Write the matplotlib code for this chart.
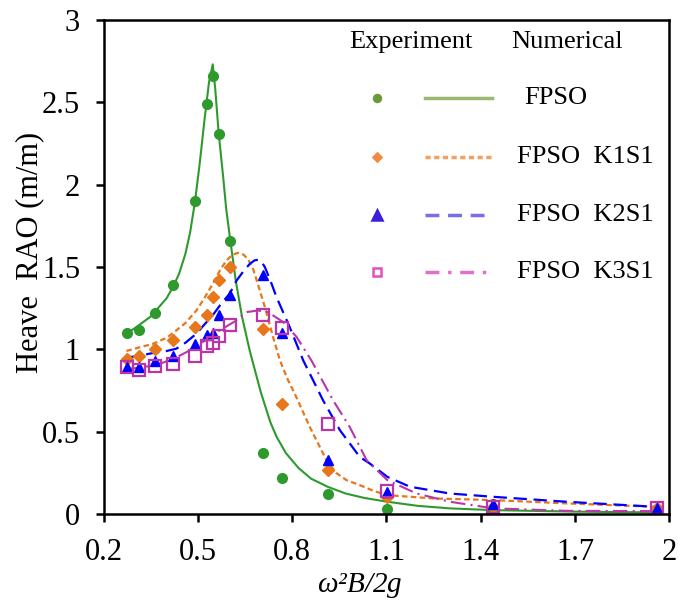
import matplotlib
matplotlib.use("Agg")
import matplotlib.pyplot as plt

plt.rcParams["font.family"] = ["Liberation Serif", "DejaVu Serif"]
plt.rcParams["mathtext.fontset"] = "custom"
plt.rcParams["mathtext.it"] = "Liberation Serif:italic"
plt.rcParams["mathtext.rm"] = "Liberation Serif"

# experimental points (shared frequencies)
x_exp = [0.274, 0.312, 0.363, 0.421, 0.490, 0.528, 0.547, 0.566, 0.603,
         0.706, 0.769, 0.914, 1.103, 1.440, 1.960]
fpso_exp = [1.10, 1.12, 1.22, 1.39, 1.90, 2.49, 2.66, 2.31, 1.66,
            0.37, 0.22, 0.125, 0.03, 0.014, 0.012]
k1s1_exp = [0.94, 0.96, 1.00, 1.055, 1.135, 1.21, 1.32, 1.42, 1.50,
            1.125, 0.67, 0.27, 0.105, 0.044, 0.035]
k2s1_exp = [0.89, 0.89, 0.93, 0.96, 1.03, 1.09, 1.10, 1.21, 1.33,
            1.45, 1.10, 0.33, 0.135, 0.06, 0.038]
k3s1_exp = [0.89, 0.877, 0.90, 0.91, 0.96, 1.02, 1.04, 1.08, 1.15,
            1.21, 1.13, 0.545, 0.141, 0.044, 0.038]

# numerical curves
fpso_x = [0.267, 0.30, 0.35, 0.40, 0.421, 0.44, 0.46, 0.475, 0.49, 0.505,
          0.52, 0.535, 0.547, 0.555, 0.566, 0.58, 0.59, 0.603, 0.62, 0.64,
          0.665, 0.70, 0.73, 0.75, 0.78, 0.82, 0.86, 0.914, 0.97, 1.03,
          1.103, 1.2, 1.3, 1.44, 1.7, 1.96]
fpso_y = [1.09, 1.13, 1.20, 1.31, 1.38, 1.46, 1.58, 1.71, 1.89, 2.12,
          2.38, 2.62, 2.73, 2.58, 2.31, 2.05, 1.85, 1.66, 1.42, 1.20,
          0.99, 0.74, 0.56, 0.47, 0.37, 0.28, 0.215, 0.165, 0.125, 0.098,
          0.075, 0.05, 0.035, 0.024, 0.015, 0.01]

k1s1_x = [0.272, 0.30, 0.357, 0.40, 0.431, 0.46, 0.495, 0.52, 0.548, 0.57,
          0.591, 0.61, 0.628, 0.645, 0.66, 0.675, 0.69, 0.713, 0.739, 0.761,
          0.785, 0.808, 0.856, 0.909, 0.94, 0.973, 1.015, 1.06, 1.103,
          1.249, 1.44, 1.673, 1.96]
k1s1_y = [0.99, 1.005, 1.034, 1.07, 1.115, 1.16, 1.236, 1.31, 1.40, 1.48,
          1.54, 1.575, 1.586, 1.575, 1.545, 1.49, 1.40, 1.256, 1.075, 0.933,
          0.82, 0.731, 0.529, 0.327, 0.25, 0.206, 0.176, 0.14, 0.115,
          0.095, 0.085, 0.065, 0.044]

k2s1_x = [0.272, 0.31, 0.357, 0.40, 0.431, 0.46, 0.495, 0.52, 0.548, 0.575,
          0.601, 0.623, 0.645, 0.665, 0.68, 0.691, 0.703, 0.713, 0.73, 0.75,
          0.792, 0.835, 0.898, 0.952, 1.015, 1.047, 1.103, 1.175, 1.302,
          1.44, 1.673, 1.96]
k2s1_y = [0.95, 0.96, 0.978, 0.99, 1.004, 1.04, 1.095, 1.15, 1.21, 1.28,
          1.338, 1.418, 1.475, 1.519, 1.54, 1.544, 1.53, 1.499, 1.42, 1.317,
          1.135, 0.933, 0.691, 0.509, 0.347, 0.307, 0.226, 0.166, 0.125,
          0.105, 0.075, 0.044]

k3s1_x = [0.272, 0.31, 0.35, 0.39, 0.43, 0.47, 0.506, 0.54, 0.569, 0.60,
          0.623, 0.654, 0.691, 0.723, 0.771, 0.814, 0.861, 0.93, 0.983,
          1.037, 1.103, 1.196, 1.302, 1.44, 1.673, 1.96]
k3s1_y = [0.88, 0.888, 0.90, 0.92, 0.95, 0.99, 1.034, 1.075, 1.115, 1.15,
          1.176, 1.226, 1.236, 1.226, 1.166, 1.075, 0.933, 0.691, 0.529,
          0.327, 0.206, 0.125, 0.075, 0.035, 0.02, 0.018]

labels = ["FPSO", "FPSO  K1S1", "FPSO  K2S1", "FPSO  K3S1"]
x_ticks = [0.2, 0.5, 0.8, 1.1, 1.4, 1.7, 2.0]
x_tick_labels = ["0.2", "0.5", "0.8", "1.1", "1.4", "1.7", "2"]
y_ticks = [0, 0.5, 1, 1.5, 2, 2.5, 3]
y_tick_labels = ["0", "0.5", "1", "1.5", "2", "2.5", "3"]

green = "#2e9a2e"
orange = "#e8761a"
blue = "#0000ff"
magenta = "#bb35a8"

fig = plt.figure(figsize=(6.78, 6.02), dpi=100)
ax = fig.add_axes([0.153, 0.146, 0.834, 0.821])

ax.plot(fpso_x, fpso_y, color=green, lw=1.5)
ax.plot(k1s1_x, k1s1_y, color=orange, lw=1.6, dashes=(2.5, 1.5))
ax.plot(k2s1_x, k2s1_y, color=blue, lw=1.6, dashes=(6, 3))
ax.plot(k3s1_x, k3s1_y, color=magenta, lw=1.5, dashes=(7, 2.5, 1, 2.5))

ax.plot(x_exp, fpso_exp, "o", color=green, ms=7, ls="none")
ax.plot(x_exp, k1s1_exp, "D", color=orange, ms=6.5, ls="none")
ax.plot(x_exp, k2s1_exp, "^", color=blue, ms=7.5, ls="none")
ax.plot(x_exp, k3s1_exp, "s", mfc="none", mec=magenta, mew=1.6, ms=9, ls="none")

ax.set_xlim(0.2, 2.0)
ax.set_ylim(0, 3)
ax.set_xticks(x_ticks)
ax.set_xticklabels(x_tick_labels)
ax.set_yticks(y_ticks)
ax.set_yticklabels(y_tick_labels)
ax.tick_params(direction="out", length=6, width=1.8, labelsize=22, pad=11)
for s in ax.spines.values():
    s.set_linewidth(1.8)

ax.set_ylabel("Heave  RAO (m/m)", fontsize=22)
ax.yaxis.set_label_coords(-0.105, 0.53)
ax.set_xlabel(r"$\omega$²$B$/2$g$", fontsize=21, style="italic")
ax.xaxis.set_label_coords(0.453, -0.115)

# hand-built legend table
ax.text(0.543, 0.955, "Experiment", transform=ax.transAxes, fontsize=19,
        ha="center", va="center")
ax.text(0.82, 0.955, "Numerical", transform=ax.transAxes, fontsize=19,
        ha="center", va="center")
leg_styles = [
    dict(marker="o", mfc="#6b9a3a", mec="#6b9a3a", ms=5, lc="#9ab870", dash=None),
    dict(marker="D", mfc="#f08a40", mec="#f08a40", ms=4.5, lc="#f2a060", dash=(1.5, 1.0)),
    dict(marker="^", mfc="#3a20d8", mec="#3a20d8", ms=7, lc="#7a6ee8", dash=(4, 2.5)),
    dict(marker="s", mfc="none", mec="#e050c0", ms=5.5, lc="#e070c8", dash=(4, 2.5, 1, 2.5)),
]
row_y = [0.842, 0.723, 0.605, 0.49]
for st, lab, yy in zip(leg_styles, labels, row_y):
    ax.plot([0.483], [yy], transform=ax.transAxes, marker=st["marker"],
            mfc=st["mfc"], mec=st["mec"], ms=st["ms"], mew=1.8, ls="none",
            clip_on=False)
    ln, = ax.plot([0.568, 0.686], [yy, yy], transform=ax.transAxes,
                  color=st["lc"], lw=2.5, clip_on=False)
    if st["dash"] is not None:
        ln.set_dashes(st["dash"])
    xt = 0.743 if lab == "FPSO" else 0.731
    ax.text(xt, yy, lab, transform=ax.transAxes, fontsize=19,
            ha="left", va="center")

fig.savefig("out.png", dpi=100)
